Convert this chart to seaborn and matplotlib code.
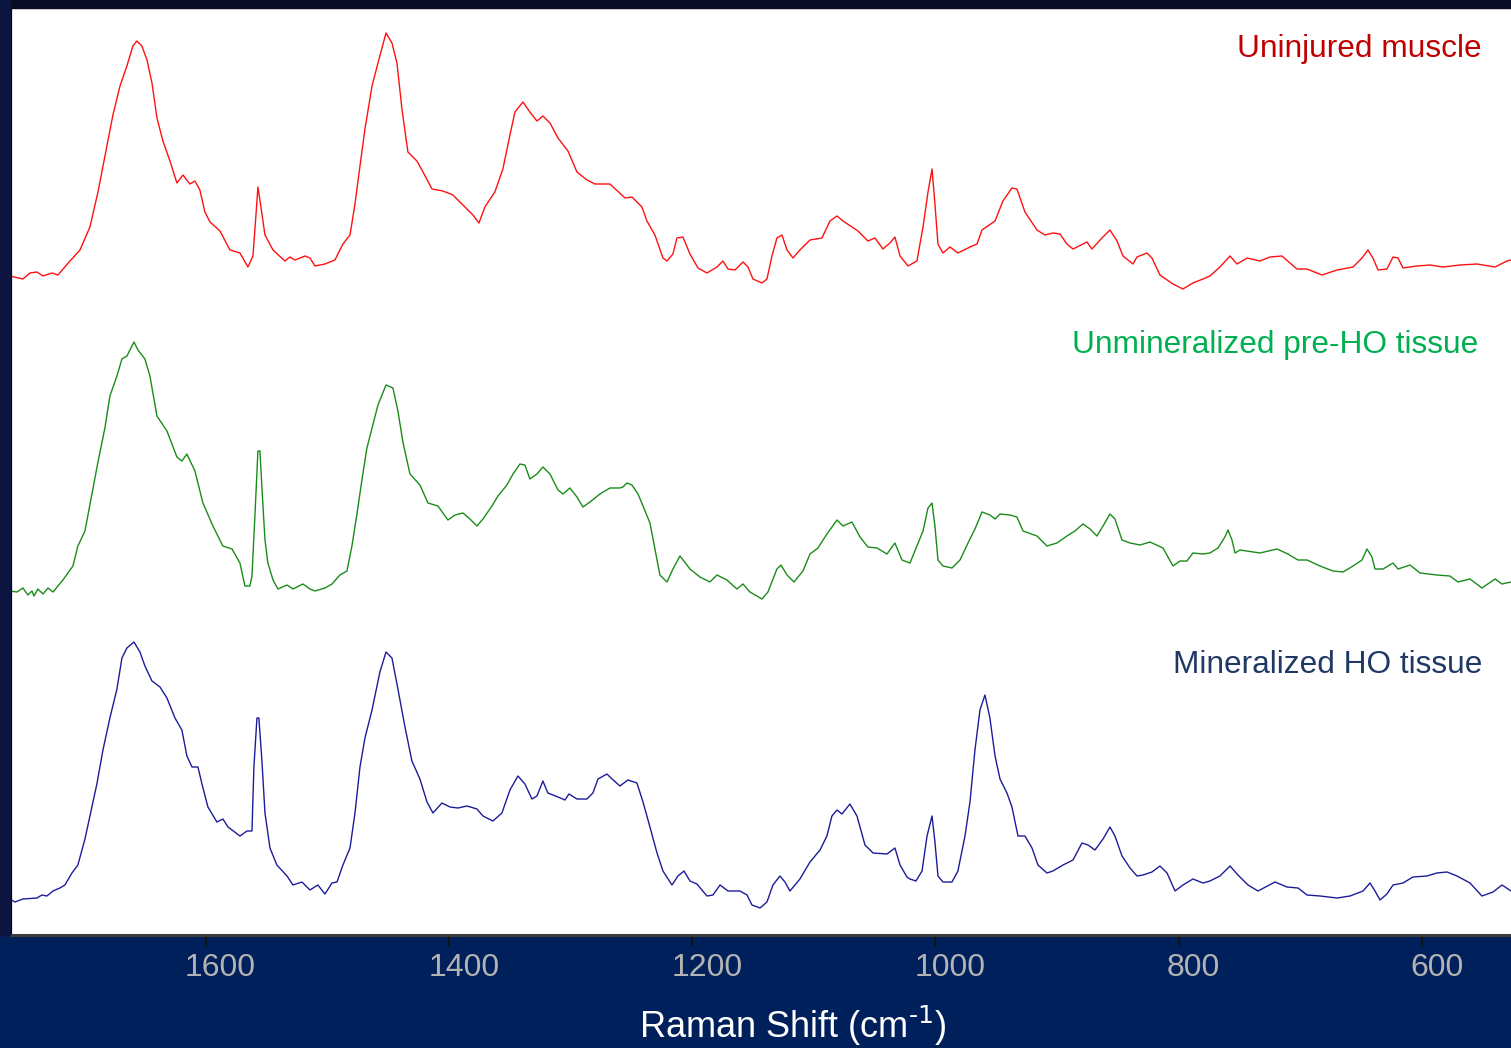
import numpy as np
import pandas as pd
import matplotlib
matplotlib.use("Agg")
import matplotlib.pyplot as plt
from matplotlib.transforms import ScaledTranslation
from matplotlib.patches import Rectangle
import seaborn as sns

# ---------------- data ----------------
series_names = ["Uninjured muscle", "Unmineralized pre-HO tissue", "Mineralized HO tissue"]

wn_uninjured = [1760.9, 1750.2, 1744.4, 1738.7, 1733.7, 1726.3, 1721.4, 1711.5, 1703.3, 1695.1,
                1688.5, 1681.1, 1676.2, 1670.4, 1664.7, 1659.8, 1656.5, 1652.4, 1648.2, 1644.1,
                1640.0, 1635.1, 1629.3, 1623.6, 1618.6, 1612.9, 1608.8, 1604.7, 1600.6, 1596.4,
                1588.2, 1580.0, 1571.8, 1565.2, 1561.1, 1558.6, 1557.0, 1554.5, 1551.2, 1544.6,
                1534.8, 1530.7, 1526.5, 1518.3, 1514.2, 1510.1, 1501.9, 1493.7, 1487.1, 1481.3,
                1477.2, 1473.1, 1469.0, 1463.2, 1458.3, 1451.7, 1446.8, 1442.7, 1438.6, 1433.7,
                1426.3, 1421.3, 1413.9, 1404.9, 1396.7, 1388.4, 1380.2, 1375.3, 1370.4, 1362.2,
                1355.6, 1349.8, 1345.7, 1339.1, 1333.4, 1327.6, 1322.7, 1316.9, 1310.3, 1302.1,
                1294.7, 1286.5, 1279.9, 1273.3, 1267.6, 1255.2, 1249.5, 1241.3, 1237.2, 1230.6,
                1224.0, 1220.7, 1215.8, 1212.5, 1207.6, 1201.8, 1195.2, 1187.8, 1179.6, 1174.7,
                1170.5, 1164.8, 1158.2, 1154.1, 1150.0, 1142.6, 1138.5, 1134.4, 1130.3, 1126.2,
                1122.0, 1117.1, 1111.4, 1103.1, 1093.3, 1086.7, 1080.9, 1076.0, 1063.7, 1055.5,
                1049.7, 1043.1, 1037.4, 1033.3, 1029.1, 1022.6, 1015.2, 1010.2, 1006.1, 1002.8,
                1000.4, 997.9, 993.8, 988.0, 981.5, 971.6, 965.8, 961.7, 951.0, 944.5,
                937.1, 933.0, 926.4, 916.5, 910.0, 903.4, 897.6, 891.9, 886.9, 875.4,
                871.3, 863.1, 856.5, 850.7, 845.8, 837.6, 834.3, 826.1, 822.0, 815.4,
                804.7, 796.5, 788.3, 780.0, 774.3, 766.1, 757.8, 752.1, 743.8, 733.2,
                725.0, 715.1, 708.5, 702.7, 694.5, 682.2, 669.8, 656.7, 649.3, 644.4,
                640.3, 636.1, 628.8, 623.8, 619.7, 615.6, 604.1, 593.4, 582.7, 568.7,
                554.8, 539.9, 530.1, 526.8]
int_uninjured = [6.59, 6.56, 6.62, 6.63, 6.59, 6.62, 6.60, 6.74, 6.85, 7.08,
                 7.43, 7.89, 8.20, 8.49, 8.69, 8.89, 8.94, 8.89, 8.75, 8.52,
                 8.17, 7.94, 7.74, 7.52, 7.60, 7.51, 7.54, 7.45, 7.23, 7.13,
                 7.04, 6.85, 6.82, 6.68, 6.79, 7.20, 7.48, 7.28, 7.00, 6.85,
                 6.74, 6.78, 6.75, 6.79, 6.77, 6.69, 6.71, 6.75, 6.91, 7.00,
                 7.31, 7.69, 8.06, 8.49, 8.72, 9.02, 8.92, 8.72, 8.26, 7.83,
                 7.74, 7.63, 7.46, 7.44, 7.40, 7.30, 7.20, 7.12, 7.28, 7.43,
                 7.66, 8.00, 8.23, 8.33, 8.23, 8.14, 8.19, 8.12, 7.97, 7.84,
                 7.63, 7.55, 7.51, 7.51, 7.51, 7.37, 7.38, 7.28, 7.14, 7.00,
                 6.77, 6.74, 6.81, 6.97, 6.98, 6.81, 6.67, 6.62, 6.68, 6.74,
                 6.66, 6.65, 6.73, 6.68, 6.56, 6.52, 6.56, 6.79, 6.97, 7.00,
                 6.85, 6.77, 6.85, 6.95, 6.97, 7.14, 7.19, 7.14, 7.04, 6.94,
                 6.97, 6.86, 6.92, 6.98, 6.79, 6.69, 6.74, 7.08, 7.43, 7.66,
                 7.31, 6.91, 6.82, 6.88, 6.82, 6.88, 6.91, 7.05, 7.14, 7.34,
                 7.47, 7.46, 7.23, 7.05, 7.00, 7.02, 7.01, 6.91, 6.86, 6.93,
                 6.86, 6.97, 7.05, 6.94, 6.79, 6.71, 6.78, 6.82, 6.77, 6.60,
                 6.51, 6.46, 6.52, 6.56, 6.59, 6.68, 6.79, 6.71, 6.77, 6.74,
                 6.78, 6.79, 6.72, 6.66, 6.66, 6.60, 6.65, 6.68, 6.77, 6.85,
                 6.77, 6.65, 6.66, 6.78, 6.77, 6.67, 6.69, 6.70, 6.68, 6.70,
                 6.71, 6.68, 6.74, 6.75]

wn_preho = [1760.9, 1755.1, 1750.2, 1746.1, 1742.8, 1741.1, 1737.9, 1733.7, 1729.6, 1725.5,
            1717.3, 1709.1, 1705.0, 1699.2, 1693.5, 1688.5, 1682.8, 1678.7, 1672.9, 1668.8,
            1664.7, 1662.2, 1658.9, 1655.6, 1649.9, 1645.8, 1640.0, 1631.8, 1623.6, 1619.5,
            1615.4, 1608.8, 1602.2, 1594.0, 1585.8, 1578.3, 1571.8, 1567.7, 1563.6, 1561.9,
            1559.4, 1557.0, 1555.3, 1553.7, 1551.2, 1548.8, 1544.6, 1540.5, 1533.1, 1528.2,
            1520.0, 1514.2, 1510.1, 1501.9, 1496.1, 1489.6, 1483.8, 1479.7, 1475.6, 1471.5,
            1467.4, 1463.2, 1458.3, 1451.7, 1446.0, 1441.9, 1437.8, 1432.0, 1423.8, 1417.2,
            1409.0, 1400.8, 1395.0, 1388.4, 1382.7, 1376.9, 1372.0, 1364.6, 1359.7, 1352.3,
            1347.3, 1341.6, 1337.5, 1333.4, 1327.6, 1322.7, 1316.9, 1310.3, 1306.2, 1300.5,
            1294.7, 1289.8, 1284.0, 1275.8, 1267.6, 1259.4, 1256.9, 1253.6, 1249.5, 1244.5,
            1240.4, 1234.7, 1230.6, 1226.5, 1220.7, 1215.8, 1210.0, 1201.8, 1193.6, 1185.4,
            1179.6, 1171.4, 1163.2, 1158.2, 1152.5, 1142.6, 1137.7, 1130.3, 1127.0, 1122.0,
            1116.3, 1108.9, 1103.1, 1096.6, 1089.2, 1080.9, 1076.0, 1068.6, 1062.0, 1055.5,
            1048.1, 1039.8, 1033.3, 1027.5, 1020.9, 1015.2, 1010.2, 1006.1, 1002.8, 1000.4,
            997.9, 993.8, 986.4, 979.8, 973.2, 967.5, 961.7, 955.2, 951.0, 946.9,
            938.7, 933.0, 928.0, 916.5, 908.3, 900.1, 891.9, 885.3, 878.7, 872.9,
            867.2, 862.2, 856.5, 852.4, 846.6, 840.0, 831.8, 823.6, 812.9, 804.7,
            798.9, 793.2, 788.3, 780.0, 774.3, 767.7, 762.0, 759.5, 756.2, 753.7,
            749.6, 733.2, 719.2, 710.2, 702.0, 694.5, 683.8, 673.2, 664.9, 656.7,
            649.3, 645.2, 641.1, 638.6, 632.0, 623.8, 619.7, 609.8, 601.6, 587.7,
            577.0, 570.4, 560.5, 550.7, 539.9, 534.2, 526.8]
int_preho = [3.44, 3.43, 3.47, 3.40, 3.44, 3.39, 3.46, 3.41, 3.47, 3.43,
             3.55, 3.69, 3.89, 4.04, 4.41, 4.73, 5.07, 5.39, 5.59, 5.76,
             5.79, 5.85, 5.93, 5.85, 5.76, 5.59, 5.19, 5.04, 4.78, 4.74,
             4.81, 4.64, 4.32, 4.09, 3.89, 3.86, 3.72, 3.49, 3.49, 3.59,
             4.21, 4.84, 4.84, 4.47, 3.95, 3.72, 3.55, 3.46, 3.50, 3.46,
             3.51, 3.46, 3.44, 3.47, 3.51, 3.60, 3.64, 3.89, 4.21, 4.55,
             4.87, 5.07, 5.30, 5.50, 5.47, 5.24, 4.93, 4.61, 4.50, 4.32,
             4.29, 4.15, 4.20, 4.22, 4.16, 4.09, 4.16, 4.29, 4.39, 4.50,
             4.61, 4.71, 4.70, 4.56, 4.61, 4.68, 4.61, 4.45, 4.41, 4.47,
             4.38, 4.28, 4.33, 4.41, 4.47, 4.47, 4.48, 4.52, 4.50, 4.41,
             4.29, 4.12, 3.86, 3.60, 3.53, 3.66, 3.79, 3.66, 3.58, 3.53,
             3.60, 3.55, 3.46, 3.51, 3.43, 3.36, 3.43, 3.66, 3.70, 3.60,
             3.53, 3.64, 3.81, 3.87, 4.01, 4.15, 4.09, 4.13, 3.98, 3.88,
             3.87, 3.81, 3.92, 3.75, 3.72, 3.89, 4.04, 4.27, 4.32, 4.09,
             3.75, 3.69, 3.67, 3.75, 3.92, 4.06, 4.23, 4.20, 4.16, 4.21,
             4.20, 4.18, 4.04, 3.99, 3.89, 3.92, 3.99, 4.04, 4.11, 4.06,
             3.99, 4.09, 4.21, 4.16, 3.95, 3.92, 3.90, 3.93, 3.87, 3.69,
             3.74, 3.74, 3.82, 3.81, 3.82, 3.87, 3.98, 4.05, 3.95, 3.82,
             3.85, 3.82, 3.86, 3.81, 3.75, 3.75, 3.69, 3.64, 3.63, 3.69,
             3.75, 3.86, 3.78, 3.66, 3.66, 3.72, 3.66, 3.70, 3.62, 3.60,
             3.59, 3.53, 3.56, 3.47, 3.56, 3.51, 3.53]

wn_ho = [1760.9, 1756.8, 1750.2, 1738.7, 1734.6, 1730.5, 1725.5, 1719.8, 1715.7, 1709.9,
         1705.0, 1699.2, 1693.5, 1689.4, 1684.4, 1678.7, 1672.9, 1668.8, 1664.7, 1658.9,
         1654.0, 1649.9, 1644.1, 1637.5, 1631.8, 1625.2, 1619.5, 1615.4, 1611.2, 1606.3,
         1603.0, 1598.1, 1590.7, 1585.8, 1581.6, 1571.8, 1566.0, 1561.9, 1560.3, 1557.8,
         1556.2, 1553.7, 1551.2, 1547.1, 1541.4, 1533.1, 1528.2, 1520.8, 1514.2, 1507.7,
         1501.9, 1496.1, 1492.0, 1487.1, 1481.3, 1477.2, 1473.1, 1469.0, 1463.2, 1456.7,
         1451.7, 1446.8, 1441.9, 1436.1, 1430.4, 1423.8, 1418.0, 1413.1, 1405.7, 1399.1,
         1392.5, 1385.1, 1376.9, 1372.0, 1363.8, 1356.4, 1349.8, 1343.2, 1337.5, 1331.7,
         1327.6, 1322.7, 1318.6, 1310.3, 1304.6, 1301.3, 1294.7, 1286.5, 1281.6, 1277.4,
         1270.0, 1267.6, 1259.4, 1252.8, 1245.4, 1240.4, 1234.7, 1228.9, 1224.0, 1216.6,
         1211.7, 1206.7, 1201.8, 1196.1, 1187.8, 1182.9, 1177.1, 1170.5, 1160.7, 1154.9,
         1150.8, 1144.2, 1138.5, 1133.6, 1127.8, 1123.7, 1119.6, 1111.4, 1103.1, 1094.9,
         1089.2, 1085.1, 1080.9, 1076.8, 1070.3, 1064.5, 1057.9, 1051.3, 1039.8, 1033.3,
         1029.1, 1023.4, 1020.9, 1016.0, 1011.0, 1006.9, 1002.8, 1000.4, 997.9, 993.8,
         986.4, 981.5, 975.7, 971.6, 967.5, 963.4, 959.3, 955.2, 951.0, 946.9,
         941.2, 937.1, 932.1, 926.4, 920.6, 915.7, 908.3, 903.4, 895.1, 886.9,
         879.5, 874.6, 868.8, 862.2, 856.5, 852.4, 846.6, 840.0, 834.3, 829.3,
         822.0, 815.4, 809.6, 803.0, 796.5, 788.3, 780.0, 774.3, 766.1, 757.8,
         751.3, 743.0, 734.8, 720.8, 711.0, 701.9, 694.5, 683.8, 669.8, 659.1,
         648.5, 642.7, 638.6, 634.5, 628.8, 623.8, 615.6, 607.4, 595.9, 587.7,
         579.4, 571.2, 560.5, 550.7, 541.6, 534.2, 526.8]
int_ho = [0.36, 0.33, 0.36, 0.37, 0.40, 0.39, 0.44, 0.47, 0.50, 0.62,
          0.70, 0.96, 1.28, 1.51, 1.85, 2.17, 2.46, 2.77, 2.87, 2.93,
          2.83, 2.69, 2.54, 2.48, 2.37, 2.17, 2.05, 1.79, 1.68, 1.68,
          1.51, 1.28, 1.13, 1.16, 1.08, 0.99, 1.04, 1.04, 1.68, 2.17,
          2.17, 1.74, 1.22, 0.87, 0.70, 0.59, 0.50, 0.53, 0.45, 0.50,
          0.41, 0.52, 0.53, 0.70, 0.87, 1.22, 1.68, 1.97, 2.25, 2.63,
          2.83, 2.77, 2.46, 2.08, 1.74, 1.56, 1.33, 1.22, 1.32, 1.28,
          1.27, 1.29, 1.26, 1.19, 1.14, 1.22, 1.45, 1.59, 1.51, 1.36,
          1.39, 1.54, 1.42, 1.38, 1.35, 1.41, 1.36, 1.36, 1.42, 1.56,
          1.61, 1.58, 1.49, 1.55, 1.52, 1.33, 1.08, 0.82, 0.64, 0.50,
          0.59, 0.64, 0.54, 0.51, 0.39, 0.40, 0.50, 0.44, 0.44, 0.40,
          0.30, 0.27, 0.33, 0.50, 0.59, 0.53, 0.44, 0.56, 0.73, 0.85,
          0.99, 1.19, 1.25, 1.21, 1.31, 1.19, 0.90, 0.82, 0.81, 0.87,
          0.70, 0.58, 0.56, 0.54, 0.64, 0.99, 1.19, 0.93, 0.59, 0.53,
          0.53, 0.64, 0.99, 1.33, 1.85, 2.25, 2.40, 2.17, 1.79, 1.56,
          1.42, 1.28, 0.99, 0.99, 0.87, 0.70, 0.62, 0.64, 0.70, 0.75,
          0.92, 0.90, 0.85, 0.96, 1.08, 0.99, 0.79, 0.67, 0.59, 0.60,
          0.63, 0.69, 0.62, 0.44, 0.50, 0.56, 0.52, 0.54, 0.59, 0.69,
          0.60, 0.50, 0.44, 0.53, 0.48, 0.47, 0.40, 0.39, 0.37, 0.39,
          0.44, 0.52, 0.44, 0.35, 0.41, 0.50, 0.52, 0.58, 0.59, 0.62,
          0.63, 0.59, 0.52, 0.39, 0.43, 0.50, 0.44]

tick_values = [1600, 1400, 1200, 1000, 800, 600]
tick_labels = ["1600", "1400", "1200", "1000", "800", "600"]

line_colors = ["#FF1010", "#1A8C1A", "#1C1C9A"]
label_colors = ["#C00000", "#00B050", "#1F3864"]

# ---------------- figure ----------------
sns.set_theme(style="white")
plt.rcParams["font.family"] = ["Liberation Sans", "DejaVu Sans"]
plt.rcParams["mathtext.default"] = "regular"

W, H = 1511, 1048
fig = plt.figure(figsize=(W / 100, H / 100), dpi=100, facecolor="#00205B")
# darker strips at top and left edge
fig.patches.append(Rectangle((0, 1 - 8 / H), 1, 8 / H, transform=fig.transFigure,
                             color="#070B24", zorder=0))
fig.patches.append(Rectangle((0, 1 - 935 / H), 10 / W, 935 / H, transform=fig.transFigure,
                             color="#0B1540", zorder=0))

ax = fig.add_axes([11 / W, (H - 935) / H, (W - 11) / W, 927 / H])
ax.set_facecolor("white")

df = pd.concat([
    pd.DataFrame({"wn": wn_uninjured, "I": int_uninjured, "series": series_names[0]}),
    pd.DataFrame({"wn": wn_preho, "I": int_preho, "series": series_names[1]}),
    pd.DataFrame({"wn": wn_ho, "I": int_ho, "series": series_names[2]}),
], ignore_index=True)

sns.lineplot(data=df, x="wn", y="I", hue="series", hue_order=series_names,
             palette=dict(zip(series_names, line_colors)), estimator=None,
             sort=False, linewidth=1.0, legend=False, ax=ax)

ax.set_xlim(1760.0, 526.8)
ax.set_ylim(0, 9.27)
ax.set_xlabel("")
ax.set_ylabel("")

ax.set_xticks(tick_values)
ax.set_xticklabels(tick_labels)
ax.tick_params(axis="x", bottom=True, direction="out", length=8, width=1.5,
               color="#111111", labelcolor="#B3B3B3", labelsize=23, pad=5)
ax.set_yticks(np.arange(0, 9.2, 1.29))
ax.set_yticklabels([])
ax.tick_params(axis="y", left=True, direction="out", length=9, width=1.0, color="#111111")
for lab in ax.get_xticklabels():
    lab.set_transform(lab.get_transform() + ScaledTranslation(15 / 100, 0, fig.dpi_scale_trans))

for side in ["top", "right"]:
    ax.spines[side].set_visible(False)
ax.spines["left"].set_color("#000000")
ax.spines["left"].set_linewidth(1.6)
ax.spines["bottom"].set_color("#3C3C3C")
ax.spines["bottom"].set_linewidth(2.2)

# series labels
label_pos = [(1482, 57.3), (1478, 353.3), (1482, 673.3)]
for name, col, (px, py) in zip(series_names, label_colors, label_pos):
    fig.text(px / W, 1 - py / H, name, ha="right", va="baseline", color=col, fontsize=22.8)

fig.text(793 / W, 1 - 1038 / H, r"Raman Shift (cm$^{\text{-1}}$)", ha="center", va="baseline",
         color="white", fontsize=26)

fig.savefig("out.png", dpi=100, facecolor=fig.get_facecolor())
